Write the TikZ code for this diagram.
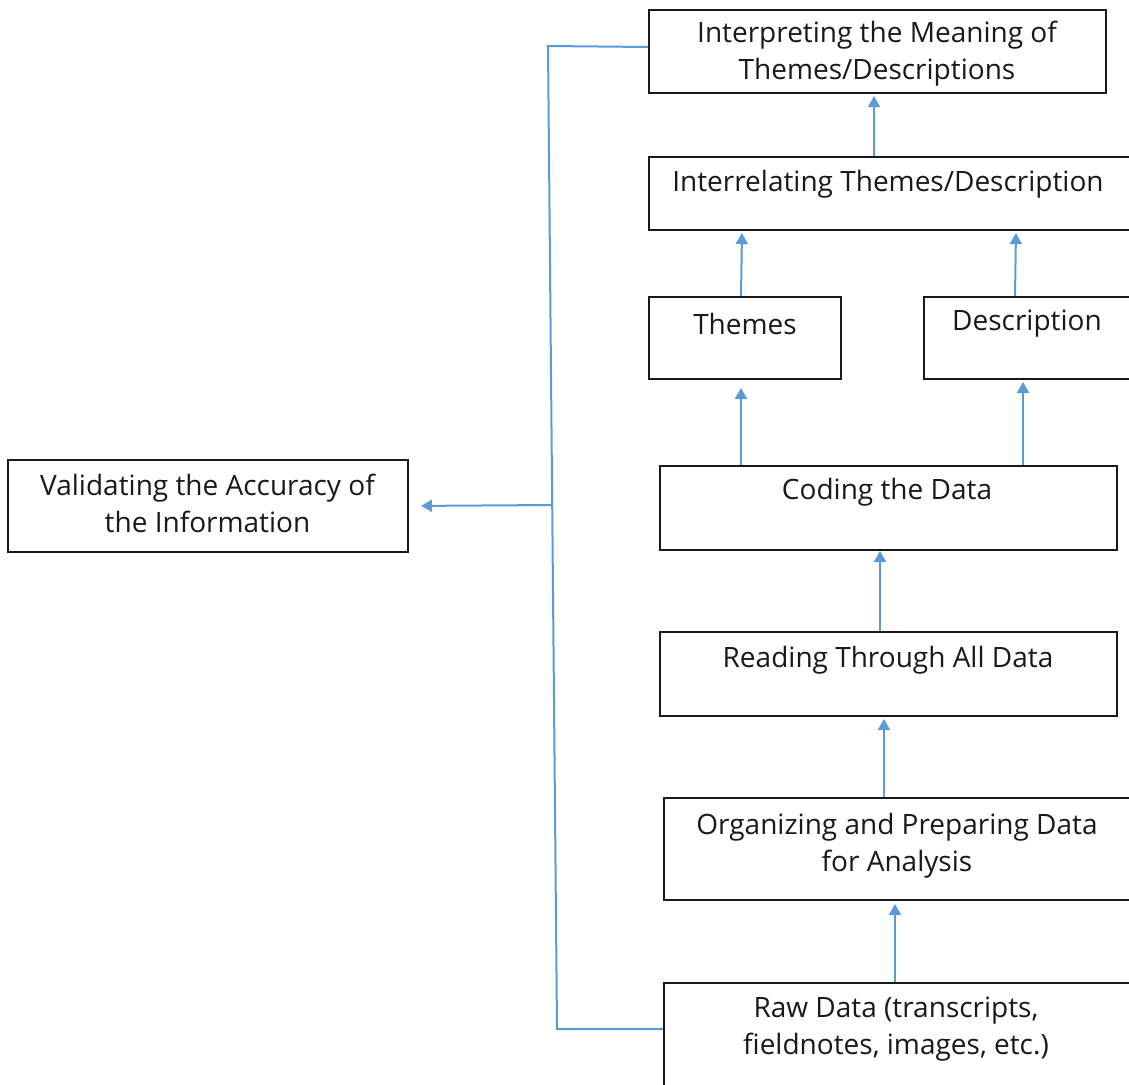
\documentclass[tikz,border=0pt]{standalone}
\usepackage{fontspec}
\setmainfont{Open Sans}
\usetikzlibrary{arrows.meta}
\definecolor{flowblue}{RGB}{91,155,213}
\definecolor{boxline}{RGB}{25,25,25}
\tikzset{
  box/.style={draw=boxline, line width=2pt, rectangle, inner sep=0pt},
  lbl/.style={align=center, inner sep=0pt, text=black!90,
    font=\fontsize{28pt}{37pt}\selectfont},
  flow/.style={draw=flowblue, line width=2pt,
    -{Triangle[width=12pt,length=11pt]}},
  fb/.style={draw=flowblue, line width=2pt}
}
\begin{document}
\begin{tikzpicture}[x=1pt,y=-1pt]
  \useasboundingbox (0,0) rectangle (1129,1084);
  \clip (0,0) rectangle (1129,1084);

  % boxes
  \node[box, minimum width=457pt, minimum height=83pt] (interp) at (877.5,51.5) {};
  \node[box, minimum width=501pt, minimum height=73pt] (interrel) at (899.5,193.5) {};
  \node[box, minimum width=192pt, minimum height=82pt] (themes) at (745,338) {};
  \node[box, minimum width=226pt, minimum height=82pt] (desc) at (1037,338) {};
  \node[box, minimum width=457pt, minimum height=84pt] (coding) at (888.5,508) {};
  \node[box, minimum width=457pt, minimum height=84pt] (reading) at (888.5,674) {};
  \node[box, minimum width=486pt, minimum height=102pt] (organ) at (907,849) {};
  \node[box, minimum width=486pt, minimum height=117pt] (raw) at (907,1041.5) {};
  \node[box, minimum width=400pt, minimum height=92pt] (valid) at (208,506) {};

  % texts
  \node[lbl] (interpT) at (877,53.5) {Interpreting the Meaning of\\Themes/Descriptions};
  \node[lbl] (interrelT) at (888,184) {Interrelating Themes/Description};
  \node[lbl] (themesT) at (745,324) {Themes};
  \node[lbl] (descT) at (1027,324) {Description};
  \node[lbl] (codingT) at (887,492) {Coding the Data};
  \node[lbl] (readingT) at (888,660) {Reading Through All Data};
  \node[lbl] (organT) at (897,846) {Organizing and Preparing Data\\for Analysis};
  \node[lbl] (rawT) at (896,1029.5) {Raw Data (transcripts,\\fieldnotes, images, etc.)};
  \node[lbl] (validT) at (207.5,503.5) {Validating the Accuracy of\\the Information};

  % upward flow
  \draw[flow, shorten >=2pt] (interrel.north -| 874,0) -- (interp.south -| 874,0);
  \draw[flow, shorten >=2pt] (themes.north -| 741,0) -- (interrel.south -| 742,0);
  \draw[flow, shorten >=2pt] (desc.north -| 1015,0) -- (interrel.south -| 1016,0);
  \draw[flow, shorten >=8pt] (coding.north -| 741,0) -- (themes.south -| 741,0);
  \draw[flow, shorten >=2pt] (coding.north -| 1023,0) -- (desc.south -| 1023,0);
  \draw[flow] (reading.north -| 880,0) -- (coding.south -| 880,0);
  \draw[flow, shorten >=2pt] (organ.north -| 884,0) -- (reading.south -| 884,0);
  \draw[flow, shorten >=3pt] (raw.north -| 895,0) -- (organ.south -| 895,0);

  % feedback line on the left
  \coordinate (fbtop) at (548,46);
  \coordinate (fbbot) at (557,1029);
  \coordinate (fbmid) at (552.5,505);
  \draw[fb] ([yshift=4.5pt]interp.west) -- (fbtop) -- (fbbot) -- (raw.west |- fbbot);
  \draw[flow, shorten >=12pt] (fbmid) -- (valid.east |- 0,506);
\end{tikzpicture}
\end{document}
